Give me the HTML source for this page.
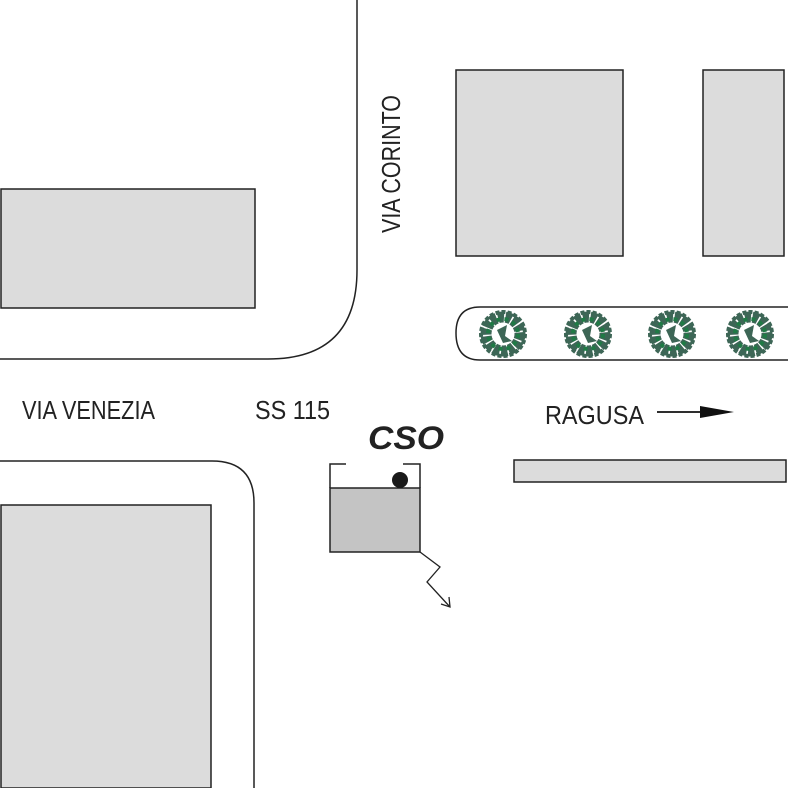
<!DOCTYPE html>
<html><head><style>html,body{margin:0;padding:0;background:#fff}</style></head><body>
<svg width="788" height="788" viewBox="0 0 788 788" xmlns="http://www.w3.org/2000/svg" font-family="Liberation Sans, Arial, sans-serif">
<defs>
<g id="tree">
  <circle r="17" fill="none" stroke="#3d6656" stroke-width="11" stroke-dasharray="6 1.5"/>
  <circle r="22" fill="none" stroke="#3d6656" stroke-width="4" stroke-dasharray="4 2"/>
  <circle r="15" fill="none" stroke="#1f7a45" stroke-width="4" stroke-dasharray="4 4"/>
  <path d="M-6,-4 L4,-9 L2,2 L9,7 L0,9 Z" fill="#3d6656"/>
</g>
</defs>
<g stroke="#222" stroke-width="1.5" fill="#dcdcdc">
  <rect x="1" y="189" width="254" height="119"/>
  <rect x="456" y="70" width="167" height="186"/>
  <rect x="703" y="70" width="81" height="186"/>
  <rect x="1" y="505" width="210" height="283"/>
  <rect x="514" y="460" width="272" height="22"/>
</g>
<g stroke="#222" stroke-width="1.5" fill="none">
  <path d="M357,0 V270 Q357,359 268,359 H0"/>
  <path d="M0,461 H212 Q254,461 254,503 V788"/>
  <path d="M788,307 H480 Q456,307 456,333 Q456,360 480,360 H788"/>
</g>
<use href="#tree" x="503" y="334"/>
<use href="#tree" x="588" y="334"/>
<use href="#tree" x="672" y="334"/>
<use href="#tree" x="750" y="334"/>
<rect x="330" y="488" width="90" height="64" fill="#c4c4c4" stroke="#222" stroke-width="1.5"/>
<path d="M346,464 H330 V488 M403,464 H420 V488" fill="none" stroke="#222" stroke-width="1.5"/>
<circle cx="400" cy="480" r="8" fill="#1a1a1a"/>
<path d="M420,552 L440,567 L427,582 L450,607" fill="none" stroke="#222" stroke-width="1.3"/>
<path d="M441,604 L450,607 L449,597" fill="none" stroke="#222" stroke-width="1.3"/>
<line x1="657" y1="412" x2="710" y2="412" stroke="#111" stroke-width="1.8"/>
<path d="M700,406 L734,412 L700,418 Z" fill="#111"/>
<g fill="#222" font-size="26">
  <text x="22" y="419" textLength="133" lengthAdjust="spacingAndGlyphs">VIA VENEZIA</text>
  <text x="255" y="419" textLength="75" lengthAdjust="spacingAndGlyphs">SS 115</text>
  <text x="545" y="424" textLength="99" lengthAdjust="spacingAndGlyphs">RAGUSA</text>
  <text transform="translate(400,233) rotate(-90)" x="0" y="0" textLength="138" lengthAdjust="spacingAndGlyphs">VIA CORINTO</text>
  <text x="368" y="449" font-size="32" font-weight="bold" font-style="italic" textLength="76" lengthAdjust="spacingAndGlyphs">CSO</text>
</g>
</svg>
</body></html>
